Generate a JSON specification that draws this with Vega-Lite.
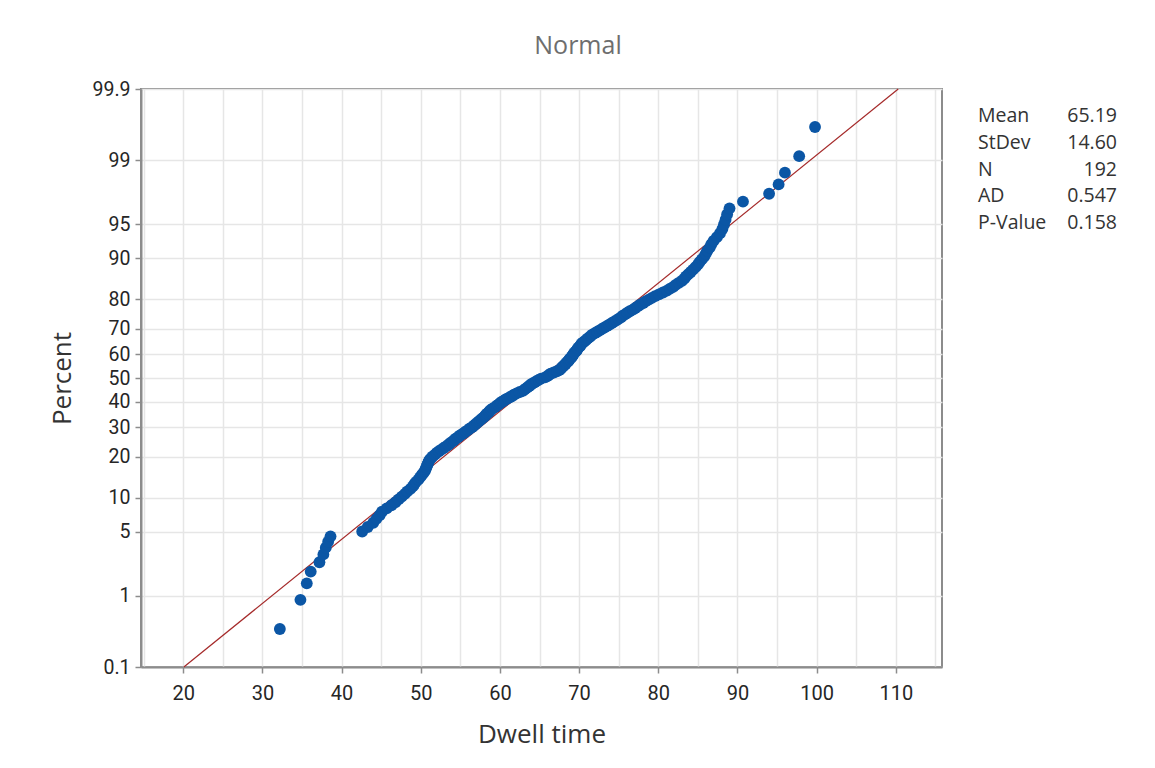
{
  "$schema": "https://vega.github.io/schema/vega-lite/v6.json",
  "autosize": "none",
  "padding": {"left": 141, "top": 89, "right": 1014, "bottom": 679},
  "background": "#ffffff",
  "bounds": "flush",
  "spacing": 36,
  "title": {
    "text": "Normal",
    "font": "Open Sans",
    "fontSize": 25,
    "fontWeight": "normal",
    "color": "#6e6e6e",
    "anchor": "middle",
    "offset": 19,
    "dx": -5
  },
  "config": {
    "font": "Open Sans",
    "axis": {
      "labelFont": "Roboto",
      "labelFontSize": 20,
      "labelColor": "#262626",
      "titleFont": "Open Sans",
      "titleFontSize": 26,
      "titleFontWeight": "normal",
      "titleColor": "#333333",
      "domainColor": "#8c8c8c",
      "domainWidth": 2,
      "tickColor": "#8c8c8c",
      "tickWidth": 1.5,
      "tickSize": 6,
      "gridColor": "#e6e6e6",
      "gridWidth": 1.5,
      "labelFlush": false,
      "labelOverlap": false
    },
    "text": {"font": "Open Sans"}
  },
  "datasets": {
    "fit": [
      {"time": 20.07, "score": -3.0902},
      {"time": 110.31, "score": 3.0902}
    ],
    "stats": [
      {"stat": "Mean", "value": "65.19"},
      {"stat": "StDev", "value": "14.60"},
      {"stat": "N", "value": "192"},
      {"stat": "AD", "value": "0.547"},
      {"stat": "P-Value", "value": "0.158"}
    ],
    "dwell": [
      {"time": 32.2, "score": -2.684}, {"time": 34.8, "score": -2.372}, {"time": 35.6, "score": -2.196}, {"time": 36.1, "score": -2.070},
      {"time": 37.2, "score": -1.970}, {"time": 37.7, "score": -1.886}, {"time": 38.0, "score": -1.814}, {"time": 38.3, "score": -1.751},
      {"time": 38.6, "score": -1.693}, {"time": 42.6, "score": -1.641}, {"time": 43.3, "score": -1.593}, {"time": 44.0, "score": -1.548},
      {"time": 44.4, "score": -1.506}, {"time": 44.8, "score": -1.467}, {"time": 45.1, "score": -1.430}, {"time": 45.7, "score": -1.394},
      {"time": 46.3, "score": -1.361}, {"time": 46.8, "score": -1.329}, {"time": 47.2, "score": -1.298}, {"time": 47.6, "score": -1.268},
      {"time": 48.0, "score": -1.239}, {"time": 48.3, "score": -1.212}, {"time": 48.7, "score": -1.185}, {"time": 49.0, "score": -1.159},
      {"time": 49.2, "score": -1.134}, {"time": 49.4, "score": -1.110}, {"time": 49.7, "score": -1.086}, {"time": 49.9, "score": -1.063},
      {"time": 50.1, "score": -1.040}, {"time": 50.3, "score": -1.018}, {"time": 50.5, "score": -0.996}, {"time": 50.6, "score": -0.975},
      {"time": 50.7, "score": -0.955}, {"time": 50.8, "score": -0.934}, {"time": 50.9, "score": -0.914}, {"time": 51.0, "score": -0.895},
      {"time": 51.1, "score": -0.876}, {"time": 51.3, "score": -0.857}, {"time": 51.5, "score": -0.838}, {"time": 51.8, "score": -0.819},
      {"time": 52.0, "score": -0.801}, {"time": 52.3, "score": -0.783}, {"time": 52.6, "score": -0.766}, {"time": 52.9, "score": -0.748},
      {"time": 53.2, "score": -0.731}, {"time": 53.5, "score": -0.714}, {"time": 53.7, "score": -0.698}, {"time": 54.0, "score": -0.681},
      {"time": 54.2, "score": -0.665}, {"time": 54.4, "score": -0.649}, {"time": 54.7, "score": -0.633}, {"time": 54.9, "score": -0.617},
      {"time": 55.2, "score": -0.601}, {"time": 55.5, "score": -0.586}, {"time": 55.7, "score": -0.570}, {"time": 56.0, "score": -0.555},
      {"time": 56.2, "score": -0.540}, {"time": 56.5, "score": -0.525}, {"time": 56.7, "score": -0.510}, {"time": 56.9, "score": -0.495},
      {"time": 57.1, "score": -0.480}, {"time": 57.3, "score": -0.466}, {"time": 57.5, "score": -0.451}, {"time": 57.7, "score": -0.437},
      {"time": 57.9, "score": -0.423}, {"time": 58.1, "score": -0.408}, {"time": 58.2, "score": -0.394}, {"time": 58.4, "score": -0.380},
      {"time": 58.6, "score": -0.366}, {"time": 58.7, "score": -0.352}, {"time": 58.9, "score": -0.339}, {"time": 59.1, "score": -0.325},
      {"time": 59.4, "score": -0.311}, {"time": 59.6, "score": -0.297}, {"time": 59.8, "score": -0.284}, {"time": 60.0, "score": -0.270},
      {"time": 60.2, "score": -0.257}, {"time": 60.5, "score": -0.243}, {"time": 60.7, "score": -0.230}, {"time": 61.0, "score": -0.217},
      {"time": 61.3, "score": -0.203}, {"time": 61.6, "score": -0.190}, {"time": 61.8, "score": -0.177}, {"time": 62.1, "score": -0.164},
      {"time": 62.5, "score": -0.150}, {"time": 62.9, "score": -0.137}, {"time": 63.1, "score": -0.124}, {"time": 63.3, "score": -0.111},
      {"time": 63.5, "score": -0.098}, {"time": 63.7, "score": -0.085}, {"time": 63.9, "score": -0.072}, {"time": 64.1, "score": -0.059},
      {"time": 64.4, "score": -0.046}, {"time": 64.6, "score": -0.033}, {"time": 64.9, "score": -0.020}, {"time": 65.2, "score": -0.007},
      {"time": 65.7, "score": 0.007}, {"time": 66.0, "score": 0.020}, {"time": 66.2, "score": 0.033}, {"time": 66.4, "score": 0.046},
      {"time": 66.8, "score": 0.059}, {"time": 67.2, "score": 0.072}, {"time": 67.5, "score": 0.085}, {"time": 67.7, "score": 0.098},
      {"time": 67.8, "score": 0.111}, {"time": 68.0, "score": 0.124}, {"time": 68.1, "score": 0.137}, {"time": 68.3, "score": 0.150},
      {"time": 68.4, "score": 0.164}, {"time": 68.6, "score": 0.177}, {"time": 68.7, "score": 0.190}, {"time": 68.8, "score": 0.203},
      {"time": 69.0, "score": 0.217}, {"time": 69.1, "score": 0.230}, {"time": 69.2, "score": 0.243}, {"time": 69.3, "score": 0.257},
      {"time": 69.4, "score": 0.270}, {"time": 69.6, "score": 0.284}, {"time": 69.7, "score": 0.297}, {"time": 69.8, "score": 0.311},
      {"time": 69.9, "score": 0.325}, {"time": 70.1, "score": 0.339}, {"time": 70.2, "score": 0.352}, {"time": 70.3, "score": 0.366},
      {"time": 70.5, "score": 0.380}, {"time": 70.7, "score": 0.394}, {"time": 70.9, "score": 0.408}, {"time": 71.1, "score": 0.423},
      {"time": 71.3, "score": 0.437}, {"time": 71.5, "score": 0.451}, {"time": 71.7, "score": 0.466}, {"time": 72.0, "score": 0.480},
      {"time": 72.3, "score": 0.495}, {"time": 72.6, "score": 0.510}, {"time": 72.9, "score": 0.525}, {"time": 73.2, "score": 0.540},
      {"time": 73.5, "score": 0.555}, {"time": 73.8, "score": 0.570}, {"time": 74.1, "score": 0.586}, {"time": 74.4, "score": 0.601},
      {"time": 74.7, "score": 0.617}, {"time": 75.0, "score": 0.633}, {"time": 75.3, "score": 0.649}, {"time": 75.5, "score": 0.665},
      {"time": 75.8, "score": 0.681}, {"time": 76.1, "score": 0.698}, {"time": 76.4, "score": 0.714}, {"time": 76.8, "score": 0.731},
      {"time": 77.1, "score": 0.748}, {"time": 77.4, "score": 0.766}, {"time": 77.7, "score": 0.783}, {"time": 78.1, "score": 0.801},
      {"time": 78.4, "score": 0.819}, {"time": 78.8, "score": 0.838}, {"time": 79.2, "score": 0.857}, {"time": 79.6, "score": 0.876},
      {"time": 80.1, "score": 0.895}, {"time": 80.6, "score": 0.914}, {"time": 81.1, "score": 0.934}, {"time": 81.5, "score": 0.955},
      {"time": 81.9, "score": 0.975}, {"time": 82.2, "score": 0.996}, {"time": 82.6, "score": 1.018}, {"time": 83.0, "score": 1.040},
      {"time": 83.3, "score": 1.063}, {"time": 83.5, "score": 1.086}, {"time": 83.8, "score": 1.110}, {"time": 84.1, "score": 1.134},
      {"time": 84.4, "score": 1.159}, {"time": 84.7, "score": 1.185}, {"time": 85.0, "score": 1.212}, {"time": 85.2, "score": 1.239},
      {"time": 85.5, "score": 1.268}, {"time": 85.8, "score": 1.298}, {"time": 86.0, "score": 1.329}, {"time": 86.2, "score": 1.361},
      {"time": 86.5, "score": 1.394}, {"time": 86.7, "score": 1.430}, {"time": 87.0, "score": 1.467}, {"time": 87.4, "score": 1.506},
      {"time": 87.8, "score": 1.548}, {"time": 88.1, "score": 1.593}, {"time": 88.3, "score": 1.641}, {"time": 88.5, "score": 1.693},
      {"time": 88.7, "score": 1.751}, {"time": 89.0, "score": 1.814}, {"time": 90.7, "score": 1.886}, {"time": 94.0, "score": 1.970},
      {"time": 95.2, "score": 2.070}, {"time": 96.0, "score": 2.196}, {"time": 97.8, "score": 2.372}, {"time": 99.8, "score": 2.684}
    ]
  },
  "hconcat": [
    {
      "width": 801,
      "height": 578,
      "view": {"stroke": "#8c8c8c", "strokeWidth": 2},
      "layer": [
        {
          "data": {"name": "fit"},
          "mark": {"type": "line", "color": "#a52a2a", "strokeWidth": 1.2},
          "encoding": {
            "x": {
              "field": "time",
              "type": "quantitative",
              "scale": {"domain": [14.66, 115.84], "nice": false, "zero": false},
              "axis": {
                "title": "Dwell time",
                "values": [15, 20, 25, 30, 35, 40, 45, 50, 55, 60, 65, 70, 75, 80, 85, 90, 95, 100, 105, 110, 115],
                "labelExpr": "datum.value % 10 === 0 ? datum.label : ''",
                "tickOpacity": {"condition": {"test": "datum.value % 10 === 0", "value": 1}, "value": 0},
                "labelPadding": 10,
                "titlePadding": 18,
                "grid": true
              }
            },
            "y": {
              "field": "score",
              "type": "quantitative",
              "scale": {"domain": [-3.0902, 3.0902], "nice": false, "zero": false},
              "axis": {
                "title": "Percent",
                "values": [-3.0902, -2.3263, -1.6449, -1.2816, -0.8416, -0.5244, -0.2533, 0, 0.2533, 0.5244, 0.8416, 1.2816, 1.6449, 2.3263, 3.0902],
                "labelExpr": "datum.value < -3 ? '0.1' : datum.value > 3 ? '99.9' : format(cumulativeNormal(datum.value) * 100, '.0f')",
                "labelFontSize": 19.5,
                "labelPadding": 5,
                "titlePadding": 16,
                "grid": true
              }
            }
          }
        },
        {
          "data": {"name": "dwell"},
          "mark": {"type": "circle", "size": 140, "color": "#0b56a5", "opacity": 1},
          "encoding": {
            "x": {"field": "time", "type": "quantitative"},
            "y": {"field": "score", "type": "quantitative"}
          }
        }
      ]
    },
    {
      "width": 139,
      "height": 161,
      "view": {"stroke": null},
      "data": {"name": "stats"},
      "encoding": {
        "y": {"field": "stat", "type": "nominal", "sort": null, "scale": {"type": "point", "padding": 1}, "axis": null}
      },
      "layer": [
        {
          "mark": {"type": "text", "align": "left", "baseline": "middle", "fontSize": 19.5, "color": "#333333"},
          "encoding": {
            "x": {"datum": 0, "type": "quantitative", "scale": {"domain": [0, 1]}, "axis": null},
            "text": {"field": "stat"}
          }
        },
        {
          "mark": {"type": "text", "align": "right", "baseline": "middle", "fontSize": 19.5, "color": "#333333"},
          "encoding": {
            "x": {"datum": 1, "type": "quantitative"},
            "text": {"field": "value"}
          }
        }
      ]
    }
  ]
}
